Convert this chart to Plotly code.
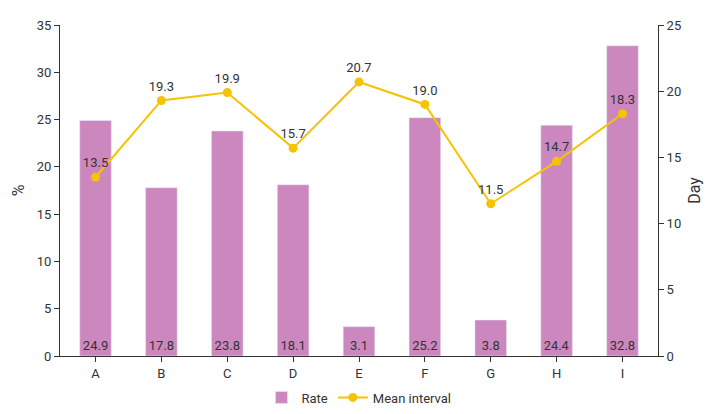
import plotly.graph_objects as go

categories = ["A", "B", "C", "D", "E", "F", "G", "H", "I"]
rate = [24.9, 17.8, 23.8, 18.1, 3.1, 25.2, 3.8, 24.4, 32.8]
mean_interval = [13.5, 19.3, 19.9, 15.7, 20.7, 19.0, 11.5, 14.7, 18.3]

fig = go.Figure()
fig.add_trace(go.Bar(
    x=categories, y=rate, name="Rate",
    marker_color="#CC88BE", width=0.48,
    text=[f"{v:.1f}" for v in rate], textposition="inside",
    insidetextanchor="start", textangle=0,
    textfont=dict(color="#333333", size=13),
))
fig.add_trace(go.Scatter(
    x=categories, y=mean_interval, name="Mean interval", yaxis="y2",
    mode="lines+markers+text", line=dict(color="#F5C300", width=2),
    marker=dict(size=9, color="#F5C300"),
    text=[f"{v:.1f}" for v in mean_interval], textposition="top center",
    textfont=dict(color="#333333", size=13),
))

fig.update_layout(
    width=712, height=414,
    font=dict(family="Roboto, sans-serif", size=13, color="#333333"),
    plot_bgcolor="white", paper_bgcolor="white",
    margin=dict(l=52, r=62, t=10, b=64),
    xaxis=dict(showline=True, linecolor="#333333", ticks="outside", tickcolor="#333333"),
    yaxis=dict(title=dict(text="%", standoff=8), range=[0, 35], dtick=5, showgrid=False,
               showline=True, linecolor="#333333", ticks="outside", tickcolor="#333333"),
    yaxis2=dict(title=dict(text="Day", standoff=8), range=[0, 25], dtick=5, overlaying="y",
                side="right", showgrid=False, showline=True, linecolor="#333333",
                ticks="outside", tickcolor="#333333"),
    legend=dict(orientation="h", x=0.5, xanchor="center", y=-0.08, yanchor="top"),
)

fig.write_html("out.html")
